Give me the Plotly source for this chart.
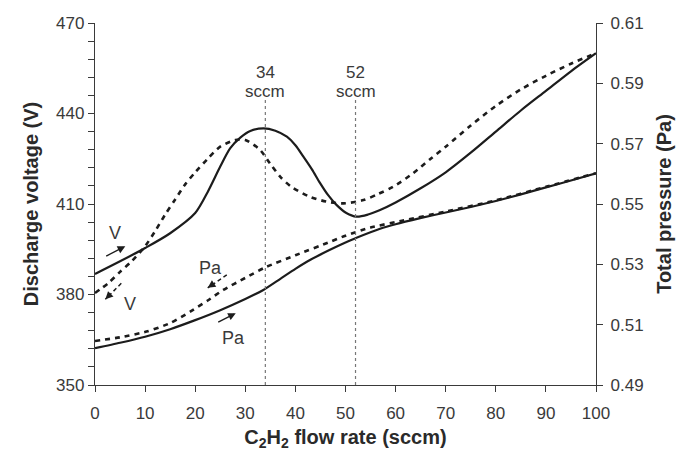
import plotly.graph_objects as go

# Discharge voltage, increasing C2H2 flow (solid)
flow_v_up = [0, 5, 10, 15, 20, 22.5, 25, 27, 29, 31, 33.6, 36, 38.3, 40, 41.6, 43.3, 44.9,
             46.5, 48.2, 50, 52.2, 54.5, 56.9, 60, 65, 70, 75, 80, 85, 90, 95, 100]
volt_up = [386.8, 391, 395.4, 400.3, 407, 414, 422.4, 428.5, 432, 434.2, 435.1, 434.3, 432.3,
           429.5, 425.7, 421.5, 417, 413, 409.7, 407.2, 405.8, 406.5, 408, 410.5, 415.2,
           420.5, 427, 434, 441, 447.5, 454, 460]

# Discharge voltage, decreasing C2H2 flow (dashed)
flow_v_down = [0, 2.6, 5, 7.3, 10, 12, 14, 16, 18, 20, 22.5, 25, 28, 30, 32.9, 34.9, 37, 39.2,
               42.9, 46.2, 49.6, 53.6, 56.5, 59.5, 63.5, 67, 70, 75, 80, 85, 90, 95, 100]
volt_down = [380.5, 383.7, 387.5, 391, 396, 401, 406.5, 411.5, 416.5, 420.5, 425, 429, 431.2,
             431.2, 428, 423.5, 419, 415.7, 412.4, 410.8, 410.2, 411.3, 413.3, 415.7, 420.2,
             425, 429, 436, 442.5, 448, 452.5, 456.5, 460]

# Total pressure, increasing flow (solid)
flow_p_up = [0, 5, 10, 15, 20, 25, 30, 33.6, 37, 40, 43, 46.9, 50, 52.2, 56.9, 60, 64.9,
             70, 75, 80, 85, 90, 95, 100]
pres_up = [0.5022, 0.504, 0.506, 0.5085, 0.5115, 0.5148, 0.5185, 0.5215, 0.5252, 0.5285,
           0.5315, 0.5348, 0.5372, 0.5388, 0.5418, 0.5433, 0.5453, 0.5472, 0.549, 0.551,
           0.5532, 0.5555, 0.5578, 0.5602]

# Total pressure, decreasing flow (dashed)
flow_p_down = [0, 5, 10.3, 15, 19, 22.5, 25.6, 30, 34, 40, 47, 50, 55, 61.5, 70, 80, 90, 100]
pres_down = [0.5046, 0.5058, 0.5077, 0.5105, 0.5143, 0.518, 0.5215, 0.5255, 0.529, 0.533,
             0.5375, 0.5395, 0.5422, 0.5445, 0.5475, 0.5512, 0.5557, 0.5602]

# Marked flow rates
marks = [34, 52]

# Voltage axis: tick every 6 V, labelled every 30 V
v_ticks = list(range(350, 471, 6))
v_labels = [str(v) if (v - 350) % 30 == 0 else "" for v in v_ticks]

INK = "#1c1c1c"
AXIS = "#3a3a3a"
TEXT = "#3a3a3a"
FONT = "Liberation Sans, Arial, sans-serif"

fig = go.Figure()
fig.add_trace(go.Scatter(x=flow_v_up, y=volt_up, mode="lines",
                         line=dict(color=INK, width=2.2, shape="spline", smoothing=0.8)))
fig.add_trace(go.Scatter(x=flow_v_down, y=volt_down, mode="lines",
                         line=dict(color=INK, width=2.6, dash="5px,5px", shape="spline", smoothing=0.8)))
fig.add_trace(go.Scatter(x=flow_p_up, y=pres_up, mode="lines", yaxis="y2",
                         line=dict(color=INK, width=2.2, shape="spline", smoothing=0.6)))
fig.add_trace(go.Scatter(x=flow_p_down, y=pres_down, mode="lines", yaxis="y2",
                         line=dict(color=INK, width=2.6, dash="5px,5px", shape="spline", smoothing=0.6)))

shapes = []
annotations = []
for m in marks:
    shapes.append(dict(type="line", xref="x", yref="paper", x0=m, x1=m, y0=0, y1=0.787,
                       line=dict(color="#777777", width=1.2, dash="dot")))
    annotations.append(dict(x=m, y=453.7, xref="x", yref="y", text=f"{m}", showarrow=False,
                            font=dict(family=FONT, size=17, color=TEXT)))
    annotations.append(dict(x=m, y=447.4, xref="x", yref="y", text="sccm", showarrow=False,
                            font=dict(family=FONT, size=17, color=TEXT)))

# Curve labels
for txt, xx, yy in [("V", 4.0, 400.4), ("V", 6.9, 376.8), ("Pa", 23.0, 388.7), ("Pa", 27.6, 365.5)]:
    annotations.append(dict(x=xx, y=yy, xref="x", yref="y", text=txt, showarrow=False,
                            font=dict(family=FONT, size=18, color=TEXT)))

# Solid arrows (increasing flow)
for (x0, y0, x1, y1) in [(1.94, 392.5, 6.05, 396.0), (24.3, 370.6, 28.1, 373.8)]:
    annotations.append(dict(x=x1, y=y1, ax=x0, ay=y0, xref="x", yref="y", axref="x", ayref="y",
                            text="", showarrow=True, arrowhead=2, arrowsize=1.1, arrowwidth=1.4,
                            arrowcolor=INK))

# Dashed arrows (decreasing flow): dashed shaft + arrowhead
for (x0, y0, x1, y1) in [(5.25, 383.7, 2.06, 378.4), (26.3, 386.5, 22.5, 382.2)]:
    shapes.append(dict(type="line", xref="x", yref="y", x0=x0, y0=y0, x1=x1, y1=y1,
                       line=dict(color=INK, width=1.5, dash="4px,3px")))
    annotations.append(dict(x=x1, y=y1, ax=x1 + (x0 - x1) * 0.35, ay=y1 + (y0 - y1) * 0.35,
                            xref="x", yref="y", axref="x", ayref="y",
                            text="", showarrow=True, arrowhead=2, arrowsize=1.1, arrowwidth=1.4,
                            arrowcolor=INK))

tickfont = dict(family=FONT, size=17, color=TEXT)
titlefont = dict(family=FONT, size=20, color="#2a2a2a", weight="bold")

fig.update_layout(
    width=679, height=452,
    margin=dict(l=95, r=83, t=23, b=67, autoexpand=False),
    paper_bgcolor="white", plot_bgcolor="white",
    showlegend=False,
    shapes=shapes, annotations=annotations,
    xaxis=dict(range=[0, 100], tickmode="linear", tick0=0, dtick=10, ticks="outside", ticklen=6,
               tickwidth=1.2, tickcolor=AXIS, showline=True, linecolor=AXIS, linewidth=1.3,
               showgrid=False, zeroline=False, tickfont=tickfont, ticklabelstandoff=6,
               automargin=False,
               title=dict(text="C<sub>2</sub>H<sub>2</sub> flow rate (sccm)", font=titlefont, standoff=8)),
    yaxis=dict(range=[350, 470], tickmode="array", tickvals=v_ticks, ticktext=v_labels,
               ticks="outside", ticklen=6, tickwidth=1.2, tickcolor=AXIS, showline=True,
               linecolor=AXIS, linewidth=1.3, showgrid=False, zeroline=False, tickfont=tickfont,
               automargin=False,
               title=dict(text="Discharge voltage (V)", font=titlefont, standoff=12)),
    yaxis2=dict(range=[0.49, 0.61], tickmode="linear", tick0=0.49, dtick=0.02, tickformat=".2f",
                overlaying="y", side="right", ticks="outside", ticklen=6, tickwidth=1.2,
                tickcolor=AXIS, showline=True, linecolor=AXIS, linewidth=1.3, showgrid=False,
                zeroline=False, tickfont=tickfont, ticklabelstandoff=4, automargin=False,
                title=dict(text="Total pressure (Pa)", font=titlefont, standoff=14)),
)

fig.write_html("out.html")
